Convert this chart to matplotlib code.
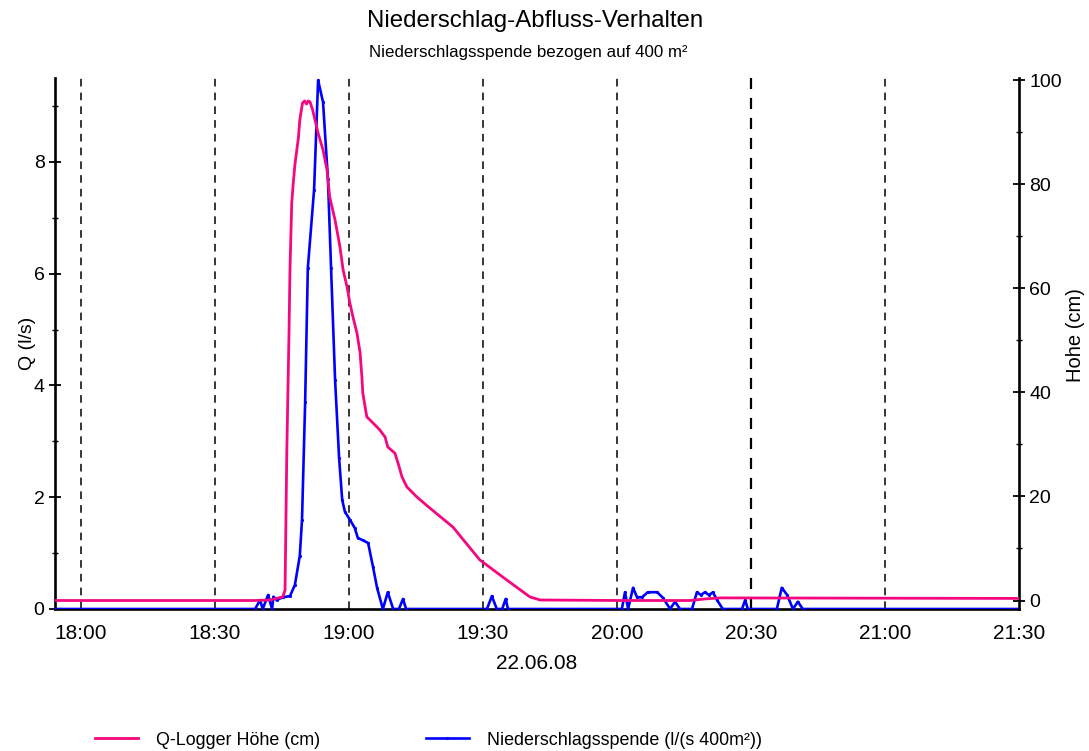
import datetime as dt
import matplotlib
matplotlib.use('Agg')
import matplotlib.pyplot as plt
import matplotlib.dates as mdates
from matplotlib.ticker import MultipleLocator

plt.rcParams['font.family'] = ['Liberation Sans', 'DejaVu Sans']

# Messtag 22.06.08, alle Zeiten in Minuten ab 18:00
tag = dt.datetime(2008, 6, 22, 18, 0)

# Q-Logger Hoehe (cm)
pegel_min = [-6.0, 39.0, 42.3, 45.2, 45.7, 46.1, 46.6, 46.8, 47.2, 47.5, 47.9,
             48.7, 49.0, 49.6, 50.1, 50.5, 50.9, 51.3, 51.9, 53.1, 54.2, 55.1,
             55.7, 56.9, 58.0, 58.7, 59.6, 60.2, 60.9, 61.8, 62.5, 62.9, 63.1,
             64.0, 65.4, 66.9, 68.1, 68.7, 70.3, 71.0, 71.9, 73.0, 75.2, 77.5,
             83.3, 89.3, 95.4, 100.5, 102.8, 120.7, 136.3, 139.7, 143.1, 210.0]
pegel_cm = [0.0, 0.0, 0.1, 0.7, 2.0, 28.9, 52.0, 63.5, 76.4, 79.8, 83.7,
            89.0, 92.3, 95.6, 96.0, 95.4, 96.0, 95.8, 94.2, 89.8, 86.6, 82.7,
            77.5, 73.1, 67.9, 63.5, 60.2, 57.2, 54.5, 51.4, 47.6, 43.0, 39.9,
            35.3, 34.1, 32.8, 31.4, 29.5, 28.3, 26.4, 23.7, 21.8, 19.9, 18.2,
            14.1, 7.8, 3.9, 0.7, 0.1, 0.0, 0.0, 0.3, 0.5, 0.4]

# Niederschlagsspende (l/(s 400m²))
regen_min = [-6.0, 39.0, 40.1, 40.7, 41.9, 42.8, 43.1, 43.8, 45.2, 46.8, 47.9,
             49.0, 49.5, 50.2, 50.8, 52.2, 53.1, 54.2, 55.3, 56.0, 56.9, 57.8,
             58.5, 59.1, 60.2, 61.3, 62.0, 63.1, 64.3, 65.4, 66.3, 67.6, 68.7,
             69.9, 71.2, 72.1, 72.8, 90.9, 92.0, 93.1, 94.3, 95.1, 95.6, 121.1,
             121.8, 122.5, 123.6, 124.5, 125.6, 126.9, 129.0, 130.3, 131.9,
             133.0, 134.1, 136.8, 137.9, 138.8, 139.7, 140.6, 141.5, 142.4,
             143.7, 148.0, 148.7, 149.3, 155.8, 156.9, 158.1, 159.4, 160.5,
             161.6, 210.0]
regen_ls = [0.0, 0.0, 0.16, 0.0, 0.25, 0.0, 0.22, 0.16, 0.21, 0.23, 0.43,
            0.95, 1.6, 3.7, 6.1, 7.5, 9.46, 9.07, 7.7, 6.1, 4.1, 2.7,
            1.95, 1.74, 1.6, 1.45, 1.27, 1.23, 1.18, 0.75, 0.38, 0.0, 0.3,
            0.0, 0.0, 0.18, 0.0, 0.0, 0.23, 0.0, 0.0, 0.18, 0.0, 0.0,
            0.3, 0.0, 0.38, 0.21, 0.21, 0.3, 0.3, 0.2, 0.0,
            0.13, 0.0, 0.0, 0.3, 0.25, 0.3, 0.25, 0.3, 0.16,
            0.0, 0.0, 0.16, 0.0, 0.0, 0.38, 0.25, 0.0, 0.13,
            0.0, 0.0]

halbstunden = [0, 30, 60, 90, 120, 150, 180]


def zeit(minuten):
    return [tag + dt.timedelta(minutes=m) for m in minuten]


fig = plt.figure(figsize=(10.89, 7.51), dpi=100)
ax = fig.add_axes([0.0505, 0.1891, 0.8852, 0.7070])
ax2 = ax.twinx()

for m in halbstunden:
    ax.axvline(tag + dt.timedelta(minutes=m), color='black',
               lw=1.6 if m == 150 else 1.1, dashes=(5, 4), zorder=1)

l_regen, = ax.plot(zeit(regen_min), regen_ls, color='#0000ff', lw=1.9,
                   marker='.', markersize=2.5, zorder=3,
                   label='Niederschlagsspende (l/(s 400m²))')
l_pegel, = ax2.plot(zeit(pegel_min), pegel_cm, color='#f5077f', lw=2.0,
                    zorder=3, label='Q-Logger Höhe (cm)')

ax.set_xlim(tag - dt.timedelta(minutes=5.8), tag + dt.timedelta(minutes=210))
ax.set_ylim(0, 9.5)
ax2.set_ylim(-1.63, 100.4)

ax.xaxis.set_major_locator(mdates.MinuteLocator(byminute=[0, 30]))
ax.xaxis.set_major_formatter(mdates.DateFormatter('%H:%M'))
ax.yaxis.set_major_locator(MultipleLocator(2))
ax.yaxis.set_minor_locator(MultipleLocator(1))
ax2.yaxis.set_major_locator(MultipleLocator(20))
ax2.yaxis.set_minor_locator(MultipleLocator(10))

for a in (ax, ax2):
    a.spines['top'].set_visible(False)
    for s in a.spines.values():
        s.set_linewidth(1.9)
ax.spines['right'].set_visible(False)
ax2.spines['left'].set_visible(False)
ax2.spines['bottom'].set_visible(False)

ax.tick_params(axis='x', length=0, labelsize=15, pad=11)
ax.tick_params(axis='y', which='major', direction='inout', length=8, width=1.3,
               labelsize=14)
ax.tick_params(axis='y', which='minor', direction='inout', length=5, width=1.0)
ax2.tick_params(axis='y', which='major', direction='inout', length=8, width=1.3,
                labelsize=14)
ax2.tick_params(axis='y', which='minor', direction='inout', length=5, width=1.0)

ax.set_ylabel('Q (l/s)', fontsize=14, labelpad=-2)
ax2.set_ylabel('Hohe (cm)', fontsize=14.5)
ax2.yaxis.set_label_coords(1.049, 0.515)
ax.set_xlabel('22.06.08', fontsize=15, labelpad=8)

fig.text(0.4917, 0.972, 'Niederschlag-Abfluss-Verhalten', ha='center',
         va='center', fontsize=17.3)
fig.text(0.4850, 0.930, 'Niederschlagsspende bezogen auf 400 m²', ha='center',
         va='center', fontsize=12.2)

fig.legend(handles=[l_pegel, l_regen], loc='center left',
           bbox_to_anchor=(0.0872, 0.0146), ncol=2, frameon=False,
           fontsize=12.9, handlelength=2.4, handletextpad=1.0,
           columnspacing=5.9, borderpad=0, borderaxespad=0)

fig.savefig('out.png', dpi=100)
